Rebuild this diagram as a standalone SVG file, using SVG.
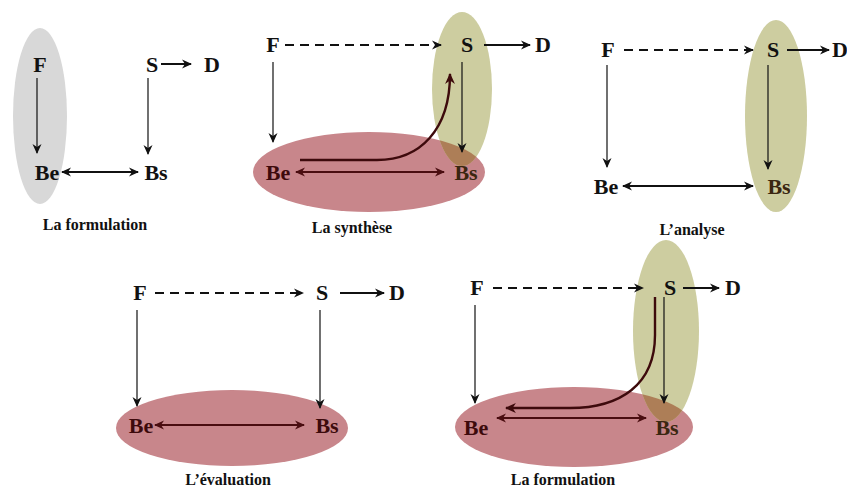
<svg xmlns="http://www.w3.org/2000/svg" width="847" height="489" viewBox="0 0 847 489">
<style>
.n{font-family:"Liberation Serif","Times New Roman",serif;font-weight:bold;font-size:22px;text-anchor:middle;fill:#111}
.nr{fill:#3d0a0c}
.nb{fill:#3a2610}
.cap{font-family:"Liberation Serif","Times New Roman",serif;font-weight:bold;font-size:16px;text-anchor:middle;fill:#111}
.l{stroke:#111;stroke-width:1.2;fill:none;marker-end:url(#ah)}
.h{stroke:#111;stroke-width:2;fill:none;marker-end:url(#ah)}
.d{stroke:#111;stroke-width:2;fill:none;stroke-dasharray:9 6;marker-end:url(#ah)}
.dbl{stroke:#111;stroke-width:1.8;fill:none;marker-start:url(#ah);marker-end:url(#ah)}
.dblr{stroke:#4a0d10;stroke-width:1.8;fill:none;marker-start:url(#ahr);marker-end:url(#ahr)}
.cur{stroke:#3d0a0c;stroke-width:2.4;fill:none}
.red{fill:#c8868b}
.grn{fill:#cdcda0}
.ovl{fill:#ad7e57}
.gry{fill:#d8d8d8}
</style>
<defs>
<marker id="ah" viewBox="0 0 10 10" refX="9" refY="5" markerWidth="10" markerHeight="10" markerUnits="userSpaceOnUse" orient="auto-start-reverse">
<path d="M0,0.5 L10,5 L0,9.5 L3,5 z" fill="#111"/>
</marker>
<marker id="ahr" viewBox="0 0 10 10" refX="9" refY="5" markerWidth="10" markerHeight="10" markerUnits="userSpaceOnUse" orient="auto-start-reverse">
<path d="M0,0.5 L10,5 L0,9.5 L3,5 z" fill="#4a0d10"/>
</marker>
<marker id="ahd" viewBox="0 0 10 10" refX="9" refY="5" markerWidth="11" markerHeight="11" markerUnits="userSpaceOnUse" orient="auto-start-reverse">
<path d="M0,0.5 L10,5 L0,9.5 L3,5 z" fill="#3d0a0c"/>
</marker>
<clipPath id="c2"><ellipse cx="369" cy="172" rx="116" ry="40"/></clipPath>
<clipPath id="c5"><ellipse cx="574" cy="427" rx="119" ry="40"/></clipPath>
</defs>

<!-- Panel 1: La formulation -->
<g id="p1-bg"><ellipse class="gry" cx="40" cy="116" rx="27" ry="88"/></g>
<g id="p1-F"><text class="n" x="40" y="72">F</text></g>
<g id="p1-S"><text class="n" x="152" y="72">S</text></g>
<g id="p1-D"><text class="n" x="212" y="72">D</text></g>
<g id="p1-Be"><text class="n" x="47" y="180">Be</text></g>
<g id="p1-Bs"><text class="n" x="156" y="180">Bs</text></g>
<g id="p1-edges">
<line class="h" x1="161" y1="64" x2="191" y2="64"/>
<line class="l" x1="37" y1="78" x2="37" y2="153"/>
<line class="l" x1="148" y1="78" x2="148" y2="154"/>
<line class="dbl" x1="62" y1="172" x2="138" y2="172"/>
</g>
<text class="cap" x="95" y="230">La formulation</text>

<!-- Panel 2: La synthèse -->
<g id="p2-bg">
<ellipse class="red" cx="369" cy="172" rx="116" ry="40"/>
<ellipse class="grn" cx="462" cy="89" rx="30" ry="77"/>
<ellipse class="ovl" cx="462" cy="89" rx="30" ry="77" clip-path="url(#c2)"/>
</g>
<g id="p2-F"><text class="n" x="273" y="52">F</text></g>
<g id="p2-S"><text class="n" x="467" y="52">S</text></g>
<g id="p2-D"><text class="n" x="543" y="52">D</text></g>
<g id="p2-Be"><text class="n nr" x="278" y="180">Be</text></g>
<g id="p2-Bs"><text class="n nb" x="466" y="180">Bs</text></g>
<g id="p2-edges">
<line class="d" x1="285" y1="45" x2="441" y2="45"/>
<line class="h" x1="484" y1="45" x2="530" y2="45"/>
<line class="l" x1="273" y1="62" x2="273" y2="142"/>
<line class="l" x1="462" y1="62" x2="462" y2="152"/>
<line class="dblr" x1="296" y1="172" x2="444" y2="172"/>
<path class="cur" d="M300,160 L377,160 C420,160 450,130 450,74" marker-end="url(#ahd)"/>
</g>
<text class="cap" x="352" y="233">La synthèse</text>

<!-- Panel 3: L'analyse -->
<g id="p3-bg"><ellipse class="grn" cx="776" cy="116" rx="31" ry="96"/></g>
<g id="p3-F"><text class="n" x="608" y="57">F</text></g>
<g id="p3-S"><text class="n" x="773" y="57">S</text></g>
<g id="p3-D"><text class="n" x="840" y="57">D</text></g>
<g id="p3-Be"><text class="n" x="606" y="194">Be</text></g>
<g id="p3-Bs"><text class="n nb" x="779" y="194">Bs</text></g>
<g id="p3-edges">
<line class="d" x1="624" y1="50" x2="753" y2="50"/>
<line class="h" x1="787" y1="50" x2="829" y2="50"/>
<line class="l" x1="607" y1="65" x2="607" y2="167"/>
<line class="l" x1="768" y1="65" x2="768" y2="169"/>
<line class="dbl" x1="623" y1="186" x2="753" y2="186"/>
</g>
<text class="cap" x="692" y="235">L’analyse</text>

<!-- Panel 4: L'évaluation -->
<g id="p4-bg"><ellipse class="red" cx="232" cy="428" rx="116" ry="38"/></g>
<g id="p4-F"><text class="n" x="140" y="300">F</text></g>
<g id="p4-S"><text class="n" x="322" y="300">S</text></g>
<g id="p4-D"><text class="n" x="397" y="300">D</text></g>
<g id="p4-Be"><text class="n nr" x="141" y="433">Be</text></g>
<g id="p4-Bs"><text class="n nr" x="327" y="433">Bs</text></g>
<g id="p4-edges">
<line class="d" x1="155" y1="293" x2="303" y2="293"/>
<line class="h" x1="340" y1="293" x2="384" y2="293"/>
<line class="l" x1="137" y1="310" x2="137" y2="406"/>
<line class="l" x1="320" y1="310" x2="320" y2="408"/>
<line class="dblr" x1="155" y1="425" x2="304" y2="425"/>
</g>
<text class="cap" x="228" y="485">L’évaluation</text>

<!-- Panel 5: La formulation -->
<g id="p5-bg">
<ellipse class="red" cx="574" cy="427" rx="119" ry="40"/>
<ellipse class="grn" cx="666" cy="331" rx="33" ry="91"/>
<ellipse class="ovl" cx="666" cy="331" rx="33" ry="91" clip-path="url(#c5)"/>
</g>
<g id="p5-F"><text class="n" x="477" y="295">F</text></g>
<g id="p5-S"><text class="n" x="670" y="295">S</text></g>
<g id="p5-D"><text class="n" x="733" y="295">D</text></g>
<g id="p5-Be"><text class="n nr" x="476" y="435">Be</text></g>
<g id="p5-Bs"><text class="n nb" x="667" y="435">Bs</text></g>
<g id="p5-edges">
<line class="d" x1="493" y1="288" x2="643" y2="288"/>
<line class="h" x1="683" y1="288" x2="719" y2="288"/>
<line class="l" x1="475" y1="305" x2="475" y2="403"/>
<line class="l" x1="664" y1="297" x2="664" y2="403"/>
<line class="dblr" x1="497" y1="418" x2="646" y2="418"/>
<path class="cur" d="M655,297 L655,335 C655,385 620,408 570,408 L506,408" marker-end="url(#ahd)"/>
</g>
<text class="cap" x="563" y="485">La formulation</text>
</svg>
